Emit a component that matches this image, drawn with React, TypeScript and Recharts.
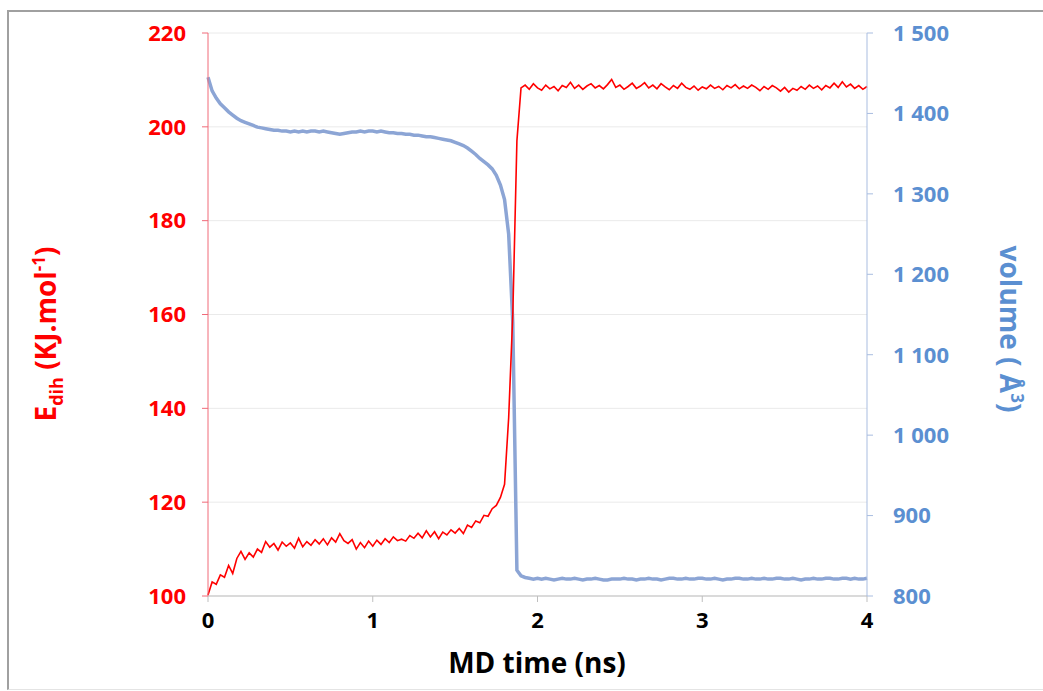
import React from 'react';
import { ComposedChart, Line, XAxis, YAxis, CartesianGrid, Label } from 'recharts';

const time = [
  0, 0.025, 0.05, 0.075, 0.1, 0.125, 0.15, 0.175, 0.2, 0.225,
  0.25, 0.275, 0.3, 0.325, 0.35, 0.375, 0.4, 0.425, 0.45, 0.475,
  0.5, 0.525, 0.55, 0.575, 0.6, 0.625, 0.65, 0.675, 0.7, 0.725,
  0.75, 0.775, 0.8, 0.825, 0.85, 0.875, 0.9, 0.925, 0.95, 0.975,
  1.0, 1.025, 1.05, 1.075, 1.1, 1.125, 1.15, 1.175, 1.2, 1.225,
  1.25, 1.275, 1.3, 1.325, 1.35, 1.375, 1.4, 1.425, 1.45, 1.475,
  1.5, 1.525, 1.55, 1.575, 1.6, 1.625, 1.65, 1.675, 1.7, 1.725,
  1.75, 1.775, 1.8, 1.825, 1.85, 1.875, 1.9, 1.925, 1.95, 1.975,
  2.0, 2.025, 2.05, 2.075, 2.1, 2.125, 2.15, 2.175, 2.2, 2.225,
  2.25, 2.275, 2.3, 2.325, 2.35, 2.375, 2.4, 2.425, 2.45, 2.475,
  2.5, 2.525, 2.55, 2.575, 2.6, 2.625, 2.65, 2.675, 2.7, 2.725,
  2.75, 2.775, 2.8, 2.825, 2.85, 2.875, 2.9, 2.925, 2.95, 2.975,
  3.0, 3.025, 3.05, 3.075, 3.1, 3.125, 3.15, 3.175, 3.2, 3.225,
  3.25, 3.275, 3.3, 3.325, 3.35, 3.375, 3.4, 3.425, 3.45, 3.475,
  3.5, 3.525, 3.55, 3.575, 3.6, 3.625, 3.65, 3.675, 3.7, 3.725,
  3.75, 3.775, 3.8, 3.825, 3.85, 3.875, 3.9, 3.925, 3.95, 3.975,
  4.0,
];

const edih = [
  100.2, 103, 102.5, 104.5, 104, 106.5, 104.8, 108, 109.5, 107.8,
  109.2, 108.3, 110, 109.3, 111.6, 110.4, 111.2, 109.8, 111.5, 110.6,
  111.3, 110.2, 112.3, 110.5, 111.6, 110.8, 112.0, 111.1, 112.2, 110.9,
  112.4, 111.5, 113.3, 111.8, 111.2, 112.0, 110.0, 111.4, 110.3, 111.7,
  110.6, 111.9, 111.0, 112.2, 111.4, 112.6, 111.8, 112.1, 111.7, 112.9,
  112.3, 113.4, 112.4, 113.9, 112.6, 113.7, 112.2, 113.6, 113.0, 114.1,
  113.4, 114.4, 113.3, 115.1, 114.6, 116.0, 115.6, 117.2, 117.0, 118.6,
  119.3, 121.0, 123.8, 138, 160, 197, 208.3, 208.9, 208.0, 209.2,
  208.3, 207.8, 208.9, 208.1, 208.6, 207.7, 208.8, 208.4, 209.5, 208.2,
  208.9, 208.0, 208.7, 209.2, 208.3, 208.8, 208.1, 209.0, 210.1, 208.4,
  208.9, 208.0, 208.6, 209.3, 208.2, 208.7, 209.4, 208.3, 208.9, 208.1,
  209.2, 208.5, 207.9, 208.8, 208.2, 209.3, 208.4, 208.0, 208.7, 207.8,
  208.5, 208.1, 208.9, 208.2, 208.6, 207.9, 208.8, 208.3, 209.0, 208.1,
  208.7, 208.2, 208.9, 208.4, 207.7, 208.6, 208.0, 208.8, 208.3, 207.6,
  208.4, 207.4, 208.2, 207.8, 208.6, 208.0, 208.9, 208.2, 208.7, 207.9,
  208.8, 208.3, 209.3, 208.4, 209.6, 208.5, 209.1, 208.2, 208.8, 208.0,
  208.6,
];

const volume = [
  1445, 1428, 1419, 1412, 1407, 1402, 1398, 1394, 1391, 1389,
  1387, 1385, 1383, 1382, 1381, 1380, 1379, 1379, 1378, 1378,
  1377, 1378, 1377, 1378, 1377, 1378, 1378, 1377, 1378, 1377,
  1376, 1375, 1374, 1375, 1376, 1377, 1377, 1378, 1377, 1378,
  1378, 1377, 1378, 1377, 1376, 1376, 1375, 1375, 1374, 1374,
  1373, 1373, 1372, 1371, 1371, 1370, 1369, 1368, 1367, 1366,
  1364, 1362, 1360, 1357, 1353, 1349, 1344, 1340, 1336, 1331,
  1323, 1311, 1293, 1250, 1140, 832, 825, 823, 822, 821,
  822, 821, 822, 821, 820, 821, 822, 821, 821, 822,
  821, 820, 821, 821, 822, 821, 820, 820, 821, 821,
  821, 822, 821, 821, 820, 821, 821, 822, 821, 821,
  820, 821, 822, 822, 821, 821, 822, 821, 821, 822,
  822, 821, 821, 822, 821, 820, 821, 821, 822, 822,
  821, 821, 822, 821, 821, 822, 821, 821, 822, 822,
  821, 821, 822, 821, 820, 821, 821, 822, 821, 821,
  822, 822, 821, 821, 822, 822, 821, 822, 821, 821,
  822,
];

const xTicks = [0, 1, 2, 3, 4];
const leftTicks = [100, 120, 140, 160, 180, 200, 220];
const rightTicks = [800, 900, 1000, 1100, 1200, 1300, 1400, 1500];
const rightTickLabels = ['800', '900', '1 000', '1 100', '1 200', '1 300', '1 400', '1 500'];

const xTitle = 'MD time (ns)';
const leftTitle = { main: 'E', sub: 'dih', rest: ' (KJ.mol', sup: '-1', end: ')' };
const rightTitle = { main: 'volume ( Å', sup: '3', end: ')' };

const data = time.map((t, i) => ({ t, e: edih[i], v: volume[i] }));

const FONT = '"Open Sans", sans-serif';
const RED = '#FF0000';
const RED_AXIS = '#F06A78';
const BLUE_TEXT = '#5B8FD1';
const BLUE_AXIS = '#A9BDE0';
const BLUE_LINE = '#8CA5D5';

export default function App() {
  return (
    <div style={{ position: 'absolute', left: 0, top: 0, width: 1043, height: 691, background: '#fff', overflow: 'hidden' }}>
      <div
        style={{
          position: 'absolute', left: 7, top: 10, right: -5, bottom: 1,
          borderLeft: '2px solid #A0A0A0', borderTop: '2px solid #A0A0A0', borderBottom: '1px solid #E4E4E4',
        }}
      />
      <div style={{ position: 'absolute', left: 0, top: 0 }}>
        <ComposedChart
          width={1043}
          height={691}
          data={data}
          margin={{ top: 33, right: 76, bottom: 55, left: 148 }}
          style={{ fontFamily: FONT }}
        >
          <CartesianGrid yAxisId="left" vertical={false} stroke="#EAEAEA" strokeWidth={1} />
          <XAxis
            dataKey="t"
            type="number"
            domain={[0, 4]}
            ticks={xTicks}
            height={40}
            tickSize={6}
            tickMargin={10}
            axisLine={{ stroke: '#BFBFBF' }}
            tickLine={{ stroke: '#BFBFBF' }}
            tick={{ fill: '#000', fontSize: 22, fontWeight: 700, fontFamily: FONT }}
          >
            <Label
              content={() => (
                <text x={537} y={673} textAnchor="middle" fill="#000" fontSize={28} fontWeight={700} fontFamily={FONT}>
                  {xTitle}
                </text>
              )}
            />
          </XAxis>
          <YAxis
            yAxisId="left"
            orientation="left"
            width={60}
            domain={[100, 220]}
            ticks={leftTicks}
            interval={0}
            tickSize={6}
            tickMargin={16}
            axisLine={{ stroke: RED_AXIS }}
            tickLine={{ stroke: RED_AXIS }}
            tick={{ fill: RED, fontSize: 22, fontWeight: 700, fontFamily: FONT }}
          >
            <Label
              content={() => (
                <text
                  x={0}
                  y={0}
                  transform="translate(56, 334) rotate(-90)"
                  textAnchor="middle"
                  fill={RED}
                  fontSize={28}
                  fontWeight={700}
                  fontFamily={FONT}
                >
                  <tspan>{leftTitle.main}</tspan>
                  <tspan fontSize={18} dy={7}>{leftTitle.sub}</tspan>
                  <tspan dy={-7}>{leftTitle.rest}</tspan>
                  <tspan fontSize={17} dy={-11}>{leftTitle.sup}</tspan>
                  <tspan dy={11}>{leftTitle.end}</tspan>
                </text>
              )}
            />
          </YAxis>
          <YAxis
            yAxisId="right"
            orientation="right"
            width={100}
            domain={[800, 1500]}
            ticks={rightTicks}
            interval={0}
            tickSize={6}
            tickMargin={20}
            tickFormatter={(v: number) => rightTickLabels[rightTicks.indexOf(v)]}
            axisLine={{ stroke: BLUE_AXIS }}
            tickLine={{ stroke: BLUE_AXIS }}
            tick={{ fill: BLUE_TEXT, fontSize: 22, fontWeight: 700, fontFamily: FONT, textAnchor: 'start' }}
          >
            <Label
              content={() => (
                <text
                  x={0}
                  y={0}
                  transform="translate(1000, 329) rotate(90)"
                  textAnchor="middle"
                  fill={BLUE_TEXT}
                  fontSize={28}
                  fontWeight={700}
                  fontFamily={FONT}
                >
                  <tspan>{rightTitle.main}</tspan>
                  <tspan fontSize={17} dy={-11}>{rightTitle.sup}</tspan>
                  <tspan dy={11}>{rightTitle.end}</tspan>
                </text>
              )}
            />
          </YAxis>
          <Line
            yAxisId="right"
            dataKey="v"
            type="linear"
            stroke={BLUE_LINE}
            strokeWidth={3.5}
            dot={false}
            isAnimationActive={false}
          />
          <Line
            yAxisId="left"
            dataKey="e"
            type="linear"
            stroke={RED}
            strokeWidth={1.6}
            dot={false}
            isAnimationActive={false}
          />
        </ComposedChart>
      </div>
    </div>
  );
}
